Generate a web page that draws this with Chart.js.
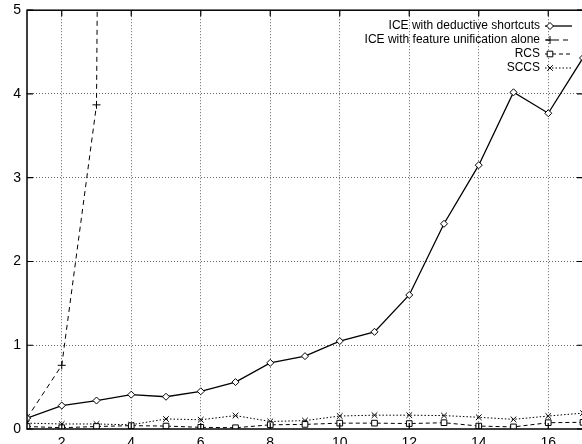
<!DOCTYPE html>
<html>
<head>
<meta charset="utf-8">
<script src="https://cdn.jsdelivr.net/npm/chart.js@4"></script>
<style>
  body { margin: 0; overflow: hidden; background: #fff; }
  canvas { display: block; }
</style>
</head>
<body>
<canvas id="chart" width="590" height="460"></canvas>
<script>
// values
var xs = [1, 2, 3, 4, 5, 6, 7, 8, 9, 10, 11, 12, 13, 14, 15, 16, 17]
var iceDeductive = [0.13, 0.28, 0.34, 0.41, 0.385, 0.45, 0.56, 0.79, 0.87, 1.05, 1.16, 1.6, 2.45, 3.15, 4.02, 3.77, 4.43]
var iceUnification = [0.13, 0.76, 3.87, 60]   // 4th point runs off the top
var rcs = [0.03, 0.015, 0.03, 0.04, 0.035, 0.02, 0.015, 0.05, 0.055, 0.07, 0.07, 0.065, 0.075, 0.035, 0.025, 0.075, 0.08]
var sccs = [0.07, 0.06, 0.06, 0.05, 0.12, 0.11, 0.16, 0.09, 0.1, 0.155, 0.165, 0.165, 0.16, 0.14, 0.115, 0.155, 0.19]
var xTicks = [2, 4, 6, 8, 10, 12, 14, 16]
var yTicks = [0, 1, 2, 3, 4, 5]
var labels = ['ICE with deductive shortcuts', 'ICE with feature unification alone', 'RCS', 'SCCS']

function pts(arr) {
    return arr.map((v, i) => ({x: xs[i], y: v}))
}

function mark(ctx, style, x, y, r) {
    ctx.beginPath()
    if (style == 'rectRot') {
        ctx.moveTo(x, y - r); ctx.lineTo(x + r, y); ctx.lineTo(x, y + r); ctx.lineTo(x - r, y); ctx.closePath()
        ctx.fill()
    } else if (style == 'rect') {
        ctx.rect(x - r * 0.7, y - r * 0.7, r * 1.4, r * 1.4)
        ctx.fill()
    } else if (style == 'cross') {
        ctx.moveTo(x - r, y); ctx.lineTo(x + r, y); ctx.moveTo(x, y - r); ctx.lineTo(x, y + r)
    } else {
        var d = r * 0.7
        ctx.moveTo(x - d, y - d); ctx.lineTo(x + d, y + d); ctx.moveTo(x + d, y - d); ctx.lineTo(x - d, y + d)
    }
    ctx.stroke()
}

// border box, inward ticks and the gnuplot style key
var frame = {
    id: 'frame',
    afterDraw(chart) {
        var ctx = chart.ctx
        var a = chart.chartArea
        var sx = chart.scales.x, sy = chart.scales.y
        ctx.save()
        ctx.strokeStyle = '#000'
        ctx.lineWidth = 1.5
        ctx.setLineDash([])
        ctx.strokeRect(a.left, a.top, a.right - a.left, a.bottom - a.top)
        ctx.lineWidth = 1.2
        ctx.beginPath()
        for (let v of xTicks) {
            let px = sx.getPixelForValue(v)
            ctx.moveTo(px, a.bottom); ctx.lineTo(px, a.bottom - 6)
            ctx.moveTo(px, a.top); ctx.lineTo(px, a.top + 6)
        }
        for (let v of yTicks) {
            let py = sy.getPixelForValue(v)
            ctx.moveTo(a.left, py); ctx.lineTo(a.left + 6, py)
            ctx.moveTo(a.right, py); ctx.lineTo(a.right - 6, py)
        }
        ctx.stroke()

        ctx.font = '12px "Liberation Sans", Arial, sans-serif'
        ctx.textAlign = 'right'
        ctx.textBaseline = 'middle'
        chart.data.datasets.forEach((ds, i) => {
            let y = 26 + i * 14
            ctx.fillStyle = '#000'
            ctx.fillText(labels[i], 540, y)
            ctx.strokeStyle = '#000'
            ctx.lineWidth = ds.borderWidth
            ctx.setLineDash(ds.borderDash || [])
            ctx.beginPath(); ctx.moveTo(545, y); ctx.lineTo(572, y); ctx.stroke()
            ctx.setLineDash([])
            ctx.lineWidth = 1
            ctx.fillStyle = '#fff'
            mark(ctx, ds.pointStyle, 550, y, ds.pointRadius)
        })
        ctx.restore()
    }
}

var gridColor = (c) => (c.tick && (c.tick.value == 0 || c.tick.value == 5)) ? 'rgba(0,0,0,0)' : '#666'

new Chart(document.getElementById('chart'), {
    type: 'line',
    data: {
        datasets: [
            {label: labels[0], data: pts(iceDeductive), borderColor: '#000', borderWidth: 1.3, pointStyle: 'rectRot', pointRadius: 3.5, pointBackgroundColor: '#fff', pointBorderColor: '#000', pointBorderWidth: 1},
            {label: labels[1], data: pts(iceUnification), borderColor: '#000', borderWidth: 1, borderDash: [5, 4], pointStyle: 'cross', pointRadius: 4, pointBorderColor: '#000', pointBorderWidth: 1},
            {label: labels[2], data: pts(rcs), borderColor: '#000', borderWidth: 1, borderDash: [4, 3], pointStyle: 'rect', pointRadius: 4, pointBackgroundColor: '#fff', pointBorderColor: '#000', pointBorderWidth: 1},
            {label: labels[3], data: pts(sccs), borderColor: '#000', borderWidth: 1, borderDash: [1.5, 2], pointStyle: 'crossRot', pointRadius: 4, pointBorderColor: '#000', pointBorderWidth: 1}
        ]
    },
    options: {
        responsive: false,
        animation: false,
        layout: {autoPadding: false, padding: {left: 0, top: 6, right: 7, bottom: 0}},
        plugins: {legend: {display: false}, tooltip: {enabled: false}},
        elements: {line: {tension: 0, fill: false}},
        scales: {
            x: {
                type: 'linear', min: 1, max: 17,
                afterBuildTicks: (s) => { s.ticks = xTicks.map(v => ({value: v})) },
                afterFit: (s) => { s.height = 31 },
                grid: {color: '#666', lineWidth: 1, drawTicks: false, borderDash: [1, 2]},
                border: {display: false, dash: [1, 2]},
                ticks: {color: '#000', padding: 6, font: {family: '"Liberation Sans", Arial, sans-serif', size: 14}}
            },
            y: {
                min: 0, max: 5,
                afterBuildTicks: (s) => { s.ticks = yTicks.map(v => ({value: v})) },
                afterFit: (s) => { s.width = 27 },
                grid: {color: gridColor, lineWidth: 1, drawTicks: false, borderDash: [1, 2]},
                border: {display: false, dash: [1, 2]},
                ticks: {color: '#000', padding: 6, font: {family: '"Liberation Sans", Arial, sans-serif', size: 14, lineHeight: 0.6}}
            }
        }
    },
    plugins: [frame]
})
</script>
</body>
</html>
